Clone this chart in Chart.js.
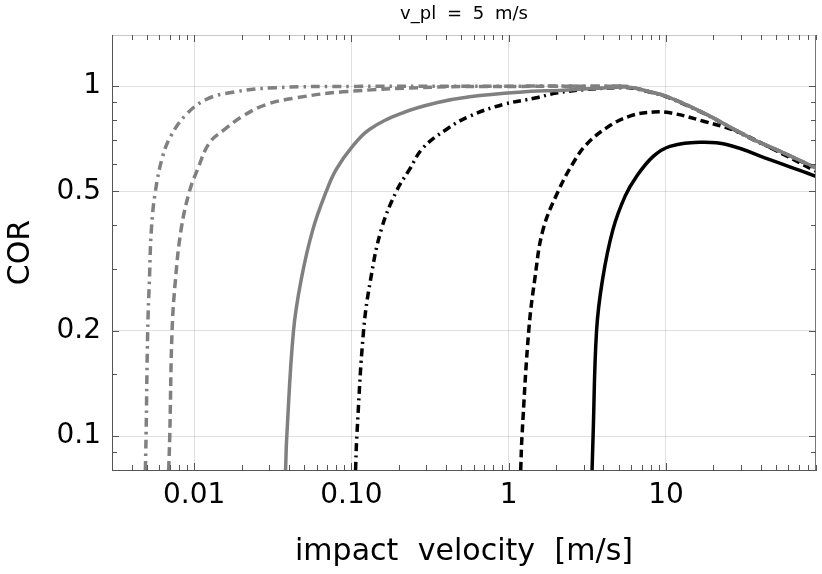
<!DOCTYPE html>
<html>
<head>
<meta charset="utf-8">
<script src="https://cdn.jsdelivr.net/npm/chart.js@4.4.1/dist/chart.umd.min.js"></script>
<style>
  html, body { margin: 0; padding: 0; background: #fff; }
  #wrap { width: 822px; height: 574px; }
</style>
</head>
<body>
<div id="wrap"><canvas id="cor"></canvas></div>
<script>
// waarden (impact velocity in m/s, COR)
const grayDashDotV   = [0.00489, 0.00494, 0.00506, 0.00519, 0.00534, 0.00566, 0.0063, 0.0071, 0.0089, 0.0119, 0.0176, 0.033, 0.1, 1, 4.5, 5.4, 6.2, 8, 10, 17.3, 25, 36, 50, 90];
const grayDashDotCor = [0.08, 0.1, 0.2, 0.28, 0.389, 0.5, 0.63, 0.72, 0.83, 0.916, 0.961, 0.99, 0.998, 1.0, 1.0, 1.0, 0.99, 0.962, 0.936, 0.839, 0.768, 0.704, 0.66, 0.584];

const grayDashedV   = [0.00688, 0.00699, 0.00723, 0.0076, 0.00825, 0.00932, 0.0105, 0.0125, 0.0156, 0.0204, 0.0287, 0.0446, 0.0881, 0.347, 1, 4.5, 5.4, 6.2, 8, 10, 17.3, 25, 36, 50, 90];
const grayDashedCor = [0.08, 0.1, 0.2, 0.28, 0.389, 0.5, 0.578, 0.689, 0.752, 0.821, 0.886, 0.926, 0.963, 0.994, 0.998, 1.0, 1.0, 0.99, 0.962, 0.936, 0.839, 0.768, 0.704, 0.66, 0.584];

const graySolidV   = [0.0381, 0.0388, 0.0428, 0.0479, 0.0568, 0.0691, 0.08, 0.0997, 0.130, 0.212, 0.347, 0.565, 1.17, 2.22, 4, 5.4, 6.2, 8, 10, 17.3, 25, 36, 50, 90];
const graySolidCor = [0.08, 0.1, 0.2, 0.28, 0.389, 0.5, 0.578, 0.666, 0.752, 0.839, 0.896, 0.932, 0.961, 0.974, 0.988, 0.995, 0.99, 0.962, 0.936, 0.839, 0.768, 0.704, 0.66, 0.584];

const blackDashDotV   = [0.1062, 0.1082, 0.1194, 0.1323, 0.1547, 0.1928, 0.234, 0.285, 0.401, 0.565, 0.92, 1.5, 2.0, 3.12, 5.1, 6.2, 8, 10, 17.3, 25, 36, 50, 90];
const blackDashDotCor = [0.08, 0.1, 0.2, 0.28, 0.389, 0.5, 0.578, 0.666, 0.752, 0.821, 0.886, 0.926, 0.955, 0.978, 0.99, 0.986, 0.96, 0.934, 0.837, 0.766, 0.702, 0.658, 0.582];

const blackDashedV   = [1.192, 1.215, 1.341, 1.464, 1.653, 2.06, 2.57, 3.12, 4.19, 5.89, 8.3, 10.6, 17.3, 28.1, 45.8, 90];
const blackDashedCor = [0.08, 0.1, 0.2, 0.28, 0.389, 0.5, 0.603, 0.681, 0.760, 0.821, 0.843, 0.839, 0.794, 0.743, 0.668, 0.571];

const blackSolidV   = [3.39, 3.44, 3.62, 3.95, 4.6, 5.5, 6.5, 8.3, 10.6, 16.4, 24.3, 45.8, 90];
const blackSolidCor = [0.08, 0.1, 0.2, 0.28, 0.389, 0.485, 0.552, 0.630, 0.673, 0.691, 0.681, 0.617, 0.552];

// assen
const xMajor = [0.01, 0.1, 1, 10];
const xMajorLabels = ['0.01', '0.10', '1', '10'];
const xMinor = [0.003, 0.004, 0.005, 0.006, 0.007, 0.008, 0.009,
                0.02, 0.03, 0.04, 0.05, 0.06, 0.07, 0.08, 0.09,
                0.2, 0.3, 0.4, 0.5, 0.6, 0.7, 0.8, 0.9,
                2, 3, 4, 5, 6, 7, 8, 9,
                20, 30, 40, 50, 60, 70, 80, 90];
const yMajor = [0.1, 0.2, 0.5, 1];
const yMajorLabels = ['0.1', '0.2', '0.5', '1'];
const yMinor = [0.09, 0.15, 0.3, 0.4, 0.6, 0.7, 0.8, 0.9];

const GRAY = 'rgb(128,128,128)';
const FONT = 'DejaVu Sans';

function punten(v, c) {
    return v.map((x, i) => ({ x: x, y: c[i] }));
}

function lijn(v, c, kleur, streep, volgorde) {
    return {
        data: punten(v, c),
        borderColor: kleur,
        borderWidth: 3.5,
        borderDash: streep,
        pointRadius: 0,
        fill: false,
        tension: 0.4,
        order: volgorde
    };
}

// brede woordafstand zoals in het origineel (titel iets smaller)
const spatiePlugin = {
    id: 'woordAfstand',
    afterLayout(chart) {
        const t = chart.titleBlock;
        if (t && !t._smal) {
            const teken = t.draw.bind(t);
            t.draw = (area) => {
                const oud = chart.ctx.wordSpacing;
                chart.ctx.wordSpacing = '5px';
                teken(area);
                chart.ctx.wordSpacing = oud;
            };
            t._smal = true;
        }
    },
    beforeDraw(chart) { chart.ctx.wordSpacing = '10px'; },
    afterDraw(chart) { chart.ctx.wordSpacing = '0px'; }
};

// kleine tickjes naar binnen, op alle vier de randen + rand boven/rechts
const tickPlugin = {
    id: 'binnenTicks',
    afterDatasetsDraw(chart) {
        const { ctx, chartArea: a, scales: { x, y } } = chart;
        ctx.save();
        ctx.strokeStyle = '#c8c8c8';
        ctx.lineWidth = 1;
        ctx.beginPath();
        ctx.moveTo(a.left, a.top + 0.5);
        ctx.lineTo(a.right, a.top + 0.5);
        ctx.stroke();
        ctx.strokeStyle = '#777';
        ctx.beginPath();
        ctx.moveTo(a.right - 0.5, a.top);
        ctx.lineTo(a.right - 0.5, a.bottom);
        ctx.stroke();

        ctx.strokeStyle = '#555';
        const streepje = (vals, len) => {
            vals.forEach(v => {
                const px = Math.round(x.getPixelForValue(v)) + 0.5;
                ctx.beginPath();
                ctx.moveTo(px, a.bottom); ctx.lineTo(px, a.bottom - len);
                ctx.moveTo(px, a.top); ctx.lineTo(px, a.top + len);
                ctx.stroke();
            });
        };
        const streepjeY = (vals, len) => {
            vals.forEach(v => {
                const py = Math.round(y.getPixelForValue(v)) + 0.5;
                ctx.beginPath();
                ctx.moveTo(a.left, py); ctx.lineTo(a.left + len, py);
                ctx.moveTo(a.right, py); ctx.lineTo(a.right - len, py);
                ctx.stroke();
            });
        };
        streepje(xMinor, 5);
        streepje(xMajor, 7);
        streepjeY(yMinor, 5);
        streepjeY(yMajor, 7);
        ctx.restore();
    }
};

new Chart(document.getElementById('cor'), {
    type: 'line',
    data: {
        datasets: [
            lijn(grayDashDotV, grayDashDotCor, GRAY, [9, 5, 2.5, 5], 1),
            lijn(grayDashedV, grayDashedCor, GRAY, [9, 5], 2),
            lijn(graySolidV, graySolidCor, GRAY, [], 3),
            lijn(blackDashDotV, blackDashDotCor, '#000', [8, 4.5, 2, 4.5], 4),
            lijn(blackDashedV, blackDashedCor, '#000', [8, 4.5], 5),
            lijn(blackSolidV, blackSolidCor, '#000', [], 6)
        ]
    },
    options: {
        responsive: true,
        maintainAspectRatio: false,
        animation: false,
        layout: { padding: { right: 6, left: 0, top: 0, bottom: 0 } },
        plugins: {
            legend: { display: false },
            tooltip: { enabled: false },
            title: {
                display: true,
                text: 'v_pl = 5 m/s',
                fullSize: false,
                color: '#000',
                font: { family: FONT, size: 18, weight: 'normal', lineHeight: 1.2 },
                padding: { top: 4, bottom: 9.4 }
            }
        },
        scales: {
            x: {
                type: 'logarithmic',
                min: 0.003,
                max: 90,
                afterBuildTicks: s => { s.ticks = xMajor.map(v => ({ value: v })); },
                afterFit: s => { s.height = 104; },
                ticks: {
                    autoSkip: false,
                    maxRotation: 0,
                    padding: 9,
                    color: '#000',
                    font: { family: FONT, size: 28 },
                    callback: (v) => xMajorLabels[xMajor.indexOf(v)]
                },
                grid: { color: 'rgba(0,0,0,0.12)', drawTicks: false },
                border: { color: '#555' },
                title: {
                    display: true,
                    text: 'impact velocity [m/s]',
                    color: '#000',
                    font: { family: FONT, size: 30, lineHeight: 1.2 },
                    padding: { top: 0, bottom: 4 }
                }
            },
            y: {
                type: 'logarithmic',
                min: 0.08,
                max: 1.4,
                afterBuildTicks: s => { s.ticks = yMajor.map(v => ({ value: v })); },
                afterFit: s => { s.width = 112; },
                ticks: {
                    autoSkip: false,
                    padding: 11,
                    color: '#000',
                    font: { family: FONT, size: 28 },
                    callback: (v) => yMajorLabels[yMajor.indexOf(v)]
                },
                grid: { color: 'rgba(0,0,0,0.12)', drawTicks: false },
                border: { color: '#555' },
                title: {
                    display: true,
                    text: 'COR',
                    color: '#000',
                    font: { family: FONT, size: 30, lineHeight: 1.2 },
                    padding: { top: 3, bottom: 0 }
                }
            }
        }
    },
    plugins: [spatiePlugin, tickPlugin]
});
</script>
</body>
</html>
